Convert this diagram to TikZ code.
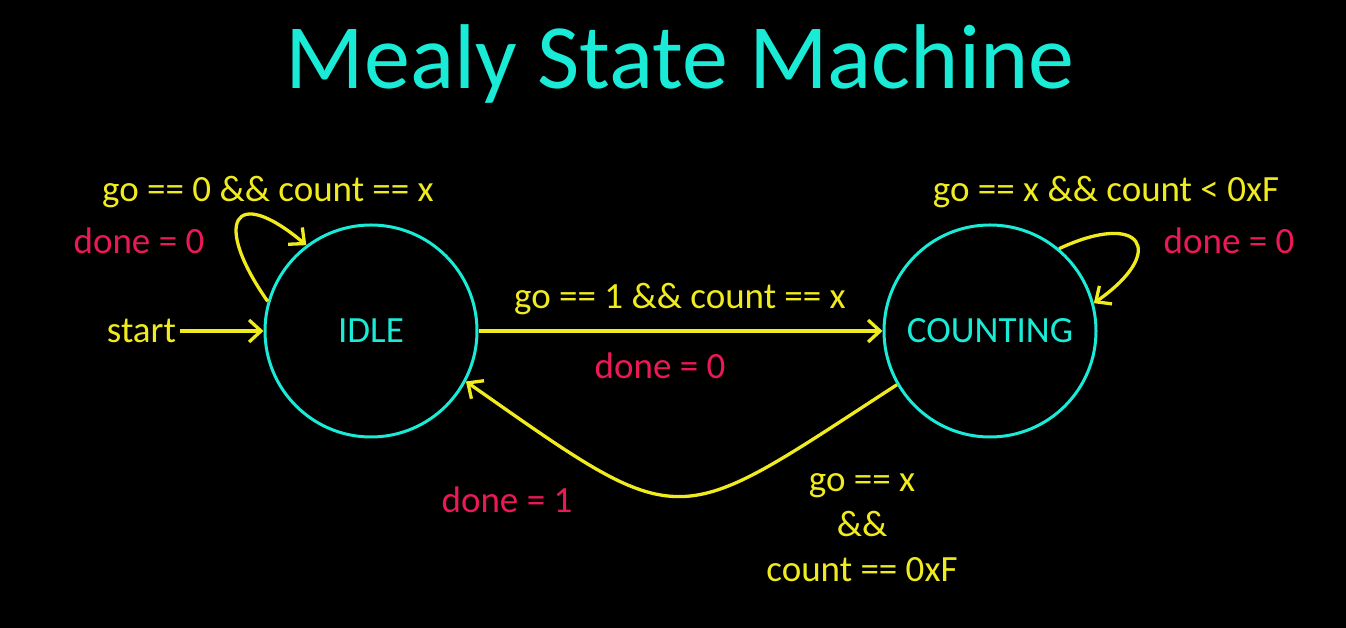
\documentclass[tikz,border=0pt]{standalone}
\usepackage{fontspec}
\setmainfont{Carlito}
\usetikzlibrary{arrows.meta,positioning}
\definecolor{fsmcyan}{RGB}{25,235,215}
\definecolor{fsmyellow}{RGB}{240,235,30}
\definecolor{fsmred}{RGB}{235,25,85}
\begin{document}
\begin{tikzpicture}[x=1pt, y=1pt,
  state/.style={draw=fsmcyan, circle, line width=3pt, minimum size=212pt, text=fsmcyan, font=\fontsize{37}{44}\selectfont},
  cond/.style={text=fsmyellow, font=\fontsize{37}{45}\selectfont, align=center},
  outp/.style={text=fsmred, font=\fontsize{37}{45}\selectfont},
  arr/.style={-{Straight Barb[length=12pt, width=22pt]}, draw=fsmyellow, line width=3.3pt}
]
\path[use as bounding box, fill=black] (0,0) rectangle (1346,628);
\node[text=fsmcyan, font=\fontsize{92}{100}\selectfont, anchor=base] (title) at (680,539) {Mealy State Machine};

\node[state] (idle) at (371,297) {IDLE};
\node[state, right=404pt of idle] (counting) {COUNTING};
\node[cond, left=84pt of idle] (start) {start};

\draw[arr] (start) -- (idle);
\draw[arr] (idle.164) to[out=125, in=140, looseness=3.6] (idle.127);
\draw[arr] (counting.50) to[out=25, in=35, looseness=3.6] (counting.15);
\draw[arr] (idle) -- (counting);
\draw[arr] (counting.210) to[out=213, in=-35, looseness=1.6] (idle.-28);

% labels
\node[cond] (c1) at (268,436) {go == 0 \&\& count == x};
\node[outp] (o1) at (139,387) {done = 0};
\node[cond] (c2) at (1106,436) {go == x \&\& count < 0xF};
\node[outp] (o2) at (1229,387) {done = 0};
\node[cond] (c3) at (680,329) {go == 1 \&\& count == x};
\node[outp] (o3) at (660,262) {done = 0};
\node[outp] (o4) at (507,128) {done = 1};
\node[cond] (c4) at (862,100) {go == x\\\&\&\\count == 0xF};
\end{tikzpicture}
\end{document}
